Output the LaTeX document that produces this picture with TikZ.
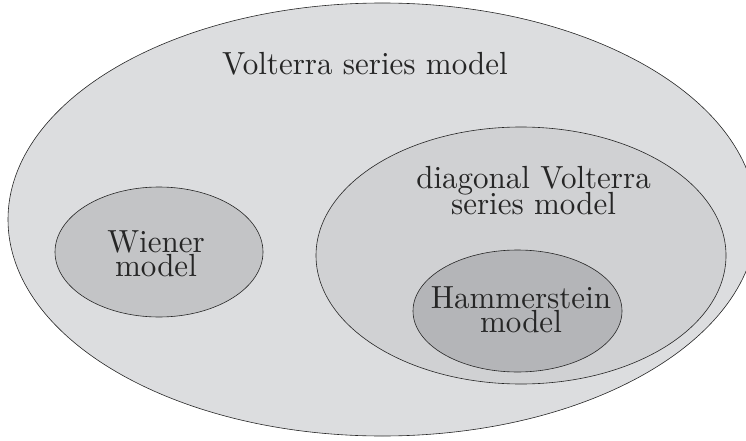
\documentclass[tikz,border=0pt]{standalone}
\usepackage{graphicx}
\usetikzlibrary{shapes.geometric}
\definecolor{outerfill}{HTML}{DCDDDF}
\definecolor{diagfill}{HTML}{D0D1D3}
\definecolor{wienerfill}{HTML}{C3C4C6}
\definecolor{hammfill}{HTML}{B4B5B8}
% 10pt design size, enlarged as a whole; #1 = distance between baselines,
% #2 = centred lines separated by \cr; the box baseline is the first line
\newcommand{\biglabel}[2]{\scalebox{3.1}[3.2]{\vtop{\baselineskip=#1\lineskip=0pt\lineskiplimit=-\maxdimen
  \halign{\hfil##\hfil\cr #2\crcr}}}}
\tikzset{
  setline/.style={draw=black!85, line width=0.6pt},
  settext/.style={font=\fontsize{10}{10}\selectfont, inner sep=0pt, anchor=base, text=black!85}
}
\begin{document}
\begin{tikzpicture}[x=1pt,y=-1pt]
  \useasboundingbox (0,0) rectangle (746,441);
  % class regions, outermost first
  \draw[setline, fill=outerfill] (382.4,219.5) ellipse [x radius=374.4, y radius=216.5];
  \draw[setline, fill=wienerfill] (159,252) ellipse [x radius=104, y radius=65];
  \draw[setline, fill=diagfill] (521,255.5) ellipse [x radius=205, y radius=128.5];
  \draw[setline, fill=hammfill] (517.5,311) ellipse [x radius=104.5, y radius=61];
  % labels (placed at the baseline of their first line)
  \node[settext] (volterra) at (365,75) {\biglabel{10pt}{Volterra series model}};
  \node[settext] (wiener) at (156,252) {\biglabel{7.8pt}{Wiener\cr model}};
  \node[settext] (diag) at (533.5,188.3) {\biglabel{8.3pt}{diagonal Volterra\cr series model}};
  \node[settext] (hamm) at (521,308.3) {\biglabel{7.7pt}{Hammerstein\cr model}};
\end{tikzpicture}
\end{document}
